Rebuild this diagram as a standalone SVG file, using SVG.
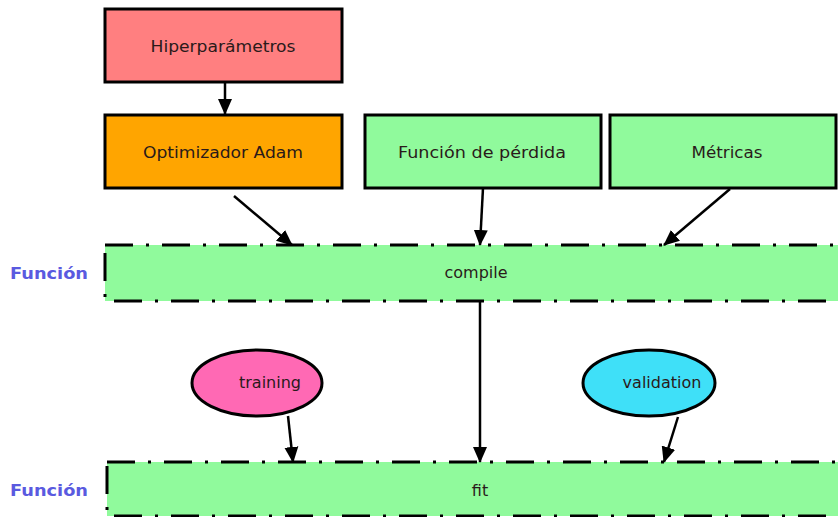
<svg xmlns="http://www.w3.org/2000/svg" width="838" height="517" viewBox="0 0 838 517">
  <style>
    .box { stroke: #000; stroke-width: 3; }
    .func { fill: #90fa9c; stroke: #000; stroke-width: 3; stroke-dasharray: 28 13 3 13; }
    .lbl { font-family: "DejaVu Sans", "Liberation Sans", sans-serif; font-size: 16px; fill: #2a1a1a; text-anchor: middle; dominant-baseline: central; }
    .side { font-family: "DejaVu Sans", "Liberation Sans", sans-serif; font-size: 16px; font-weight: 600; fill: #5a5ae0; dominant-baseline: central; }
    .edge { stroke: #000; stroke-width: 2.5; fill: none; marker-end: url(#arrow); }
  </style>
  <defs>
    <marker id="arrow" markerUnits="userSpaceOnUse" markerWidth="16" markerHeight="16" viewBox="0 0 16 16" refX="15" refY="8" orient="auto">
      <path d="M0,1 L16,8 L0,15 Z" fill="#000"/>
    </marker>
  </defs>
  <rect width="838" height="517" fill="#fff"/>

  <!-- side labels -->
  <text class="side" x="10" y="273" textLength="78" lengthAdjust="spacingAndGlyphs">Función</text>
  <text class="side" x="10" y="490" textLength="78" lengthAdjust="spacingAndGlyphs">Función</text>

  <g id="hiperparametros">
    <rect class="box" x="105" y="9" width="237" height="73" fill="#ff7f80"/>
    <text class="lbl" x="223" y="46" textLength="145" lengthAdjust="spacingAndGlyphs">Hiperparámetros</text>
  </g>
  <g id="optimizador">
    <rect class="box" x="105" y="115" width="237" height="73" fill="#ffa500"/>
    <text class="lbl" x="223" y="152" textLength="160" lengthAdjust="spacingAndGlyphs">Optimizador Adam</text>
  </g>
  <g id="perdida">
    <rect class="box" x="365" y="115" width="236" height="73" fill="#90fa9c"/>
    <text class="lbl" x="482" y="152" textLength="168" lengthAdjust="spacingAndGlyphs">Función de pérdida</text>
  </g>
  <g id="metricas">
    <rect class="box" x="610" y="115" width="226" height="73" fill="#90fa9c"/>
    <text class="lbl" x="727" y="152" textLength="71" lengthAdjust="spacingAndGlyphs">Métricas</text>
  </g>
  <g id="compile">
    <rect class="func" x="105" y="245" width="760" height="56"/>
    <text class="lbl" x="476" y="272" textLength="63" lengthAdjust="spacingAndGlyphs">compile</text>
  </g>
  <g id="training">
    <ellipse class="box" cx="257" cy="383" rx="65" ry="33" fill="#ff69b4"/>
    <text class="lbl" x="270" y="382">training</text>
  </g>
  <g id="validation">
    <ellipse class="box" cx="649" cy="383" rx="66" ry="33" fill="#3fe0f8"/>
    <text class="lbl" x="662" y="382">validation</text>
  </g>
  <g id="fit">
    <rect class="func" x="107" y="462" width="760" height="54"/>
    <text class="lbl" x="480" y="490">fit</text>
  </g>

  <g id="connectors">
    <line class="edge" x1="225" y1="82" x2="225" y2="114"/>
    <line class="edge" x1="234" y1="196" x2="292" y2="245"/>
    <line class="edge" x1="483" y1="188" x2="480" y2="245"/>
    <line class="edge" x1="730" y1="189" x2="664" y2="245"/>
    <line class="edge" x1="480" y1="301" x2="480" y2="462"/>
    <line class="edge" x1="288" y1="416" x2="293" y2="462"/>
    <line class="edge" x1="678" y1="417" x2="664" y2="462"/>
  </g>
</svg>
